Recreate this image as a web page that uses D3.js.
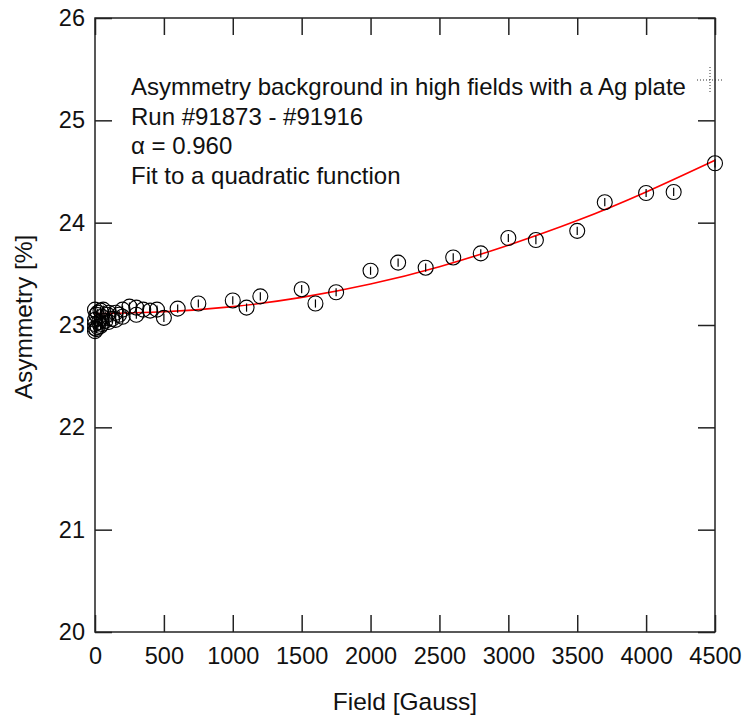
<!DOCTYPE html>
<html>
<head>
<meta charset="utf-8">
<script src="https://cdn.jsdelivr.net/npm/d3@7"></script>
<style>
  html, body { margin: 0; padding: 0; background: #fff; }
  svg { display: block; font-family: "Liberation Sans", Arial, sans-serif; }
</style>
</head>
<body>
<svg id="chart" width="743" height="717"></svg>
<script>
// ---- Data ----
const fieldGauss = [
  0, 0, 0, 0, 0, 10, 10, 20, 20, 30, 40, 40, 50, 50, 60, 75, 90, 100, 100,
  125, 150, 150, 175, 200, 200, 250, 300, 300, 350, 400, 450, 500, 600, 750,
  1000, 1100, 1200, 1500, 1600, 1750, 2000, 2200, 2400, 2600, 2800, 3000,
  3200, 3500, 3700, 4000, 4200, 4500
];
const asymmetry = [
  23.15, 23.05, 22.97, 22.94, 23.01, 23.10, 22.96, 22.98, 23.12, 23.03, 22.99, 23.14, 23.08, 23.01, 23.15, 23.04, 23.10, 23.03, 23.12,
  23.06, 23.12, 23.05, 23.10, 23.15, 23.08, 23.18, 23.17, 23.10, 23.15, 23.14, 23.15, 23.07, 23.16, 23.21,
  23.24, 23.17, 23.28, 23.35, 23.21, 23.32, 23.53, 23.61, 23.56, 23.66, 23.70, 23.85,
  23.83, 23.92, 24.20, 24.29, 24.30, 24.58
];
const errorBar = 0.04;

// quadratic fit curve
const fitField = [0, 500, 1000, 1500, 2000, 2500, 3000, 3500, 4000, 4500];
const fitAsym  = [23.11, 23.13, 23.18, 23.27, 23.40, 23.57, 23.78, 24.02, 24.30, 24.61];

const xTicks = [0, 500, 1000, 1500, 2000, 2500, 3000, 3500, 4000, 4500];
const yTicks = [20, 21, 22, 23, 24, 25, 26];

const annotation = [
  "Asymmetry background in high fields with a Ag plate",
  "Run #91873 - #91916",
  "\u03B1 = 0.960",
  "Fit to a quadratic function"
];
const xTitle = "Field [Gauss]";
const yTitle = "Asymmetry [%]";

// ---- Layout ----
const svg = d3.select("#chart");
const L = 95, T = 18, W = 620, H = 614;
const x = d3.scaleLinear().domain([0, 4500]).range([L, L + W]);
const y = d3.scaleLinear().domain([20, 26]).range([T + H, T]);
const tickLen = 17;
const ink = "#222";

// axes (ticks inward)
const gB = svg.append("g").attr("transform", `translate(0,${T + H})`)
  .call(d3.axisBottom(x).tickValues(xTicks).tickFormat(d3.format("d"))
    .tickSizeInner(-tickLen).tickSizeOuter(0).tickPadding(15));
const gT = svg.append("g").attr("transform", `translate(0,${T})`)
  .call(d3.axisTop(x).tickValues(xTicks).tickFormat("")
    .tickSizeInner(-tickLen).tickSizeOuter(0));
const gL = svg.append("g").attr("transform", `translate(${L},0)`)
  .call(d3.axisLeft(y).tickValues(yTicks).tickFormat(d3.format("d"))
    .tickSizeInner(-tickLen).tickSizeOuter(0).tickPadding(10));
const gR = svg.append("g").attr("transform", `translate(${L + W},0)`)
  .call(d3.axisRight(y).tickValues(yTicks).tickFormat("")
    .tickSizeInner(-tickLen).tickSizeOuter(0));

[gB, gT, gL, gR].forEach(g => {
  g.select(".domain").remove();
  g.selectAll(".tick line").attr("stroke", ink).attr("stroke-width", 1.5);
  g.selectAll(".tick text").attr("fill", "#111").style("font-size", "23.5px")
    .style("font-family", "'Liberation Sans', Arial, sans-serif");
});

// frame
svg.append("rect")
  .attr("x", L).attr("y", T).attr("width", W).attr("height", H)
  .attr("fill", "none").attr("stroke", ink).attr("stroke-width", 1.5);

// fit curve
const fitPts = fitField.map((f, i) => [f, fitAsym[i]]);
svg.append("path")
  .datum(fitPts)
  .attr("fill", "none").attr("stroke", "#ff0000").attr("stroke-width", 1.6)
  .attr("d", d3.line().x(d => x(d[0])).y(d => y(d[1])).curve(d3.curveNatural));

// data points: open circles with error bars
const pts = fieldGauss.map((f, i) => ({ f, a: asymmetry[i] }));
const gp = svg.append("g");
gp.selectAll("line.err").data(pts).join("line")
  .attr("class", "err")
  .attr("x1", d => x(d.f)).attr("x2", d => x(d.f))
  .attr("y1", d => y(d.a - errorBar)).attr("y2", d => y(d.a + errorBar))
  .attr("stroke", "#000").attr("stroke-width", 1.2);
gp.selectAll("circle").data(pts).join("circle")
  .attr("cx", d => x(d.f)).attr("cy", d => y(d.a)).attr("r", 7.5)
  .attr("fill", "none").attr("stroke", "#000").attr("stroke-width", 1.1);

// annotation
const ann = svg.append("g").style("font-size", "24px").attr("fill", "#111");
ann.selectAll("text").data(annotation).join("text")
  .attr("x", 131).attr("y", (d, i) => 95 + i * 29.6)
  .text(d => d);

// axis titles
svg.append("text").attr("x", L + W / 2).attr("y", 710)
  .attr("text-anchor", "middle").style("font-size", "24.5px").attr("fill", "#111")
  .text(xTitle);
svg.append("text").attr("transform", "translate(32,317) rotate(-90)")
  .attr("text-anchor", "middle").style("font-size", "24.5px").attr("fill", "#111")
  .text(yTitle);

// dotted cross marker (top right)
const cx = 710, cy = 80;
svg.append("line").attr("x1", cx - 13).attr("x2", cx + 13).attr("y1", cy).attr("y2", cy)
  .attr("stroke", "#333").attr("stroke-width", 1).attr("stroke-dasharray", "1,2");
svg.append("line").attr("x1", cx).attr("x2", cx).attr("y1", cy - 13).attr("y2", cy + 13)
  .attr("stroke", "#333").attr("stroke-width", 1).attr("stroke-dasharray", "1,2");
</script>
</body>
</html>
